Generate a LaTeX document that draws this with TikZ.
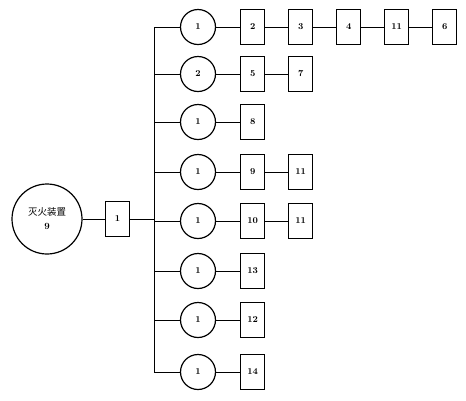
\documentclass[tikz,border=0pt]{standalone}
\usepackage{fontspec}
\newfontfamily\cjkfont{Noto Sans CJK SC}
\usetikzlibrary{positioning}

\begin{document}
\begin{tikzpicture}[
    x=1pt,y=-1pt,
    node distance=22.8pt,
    unit/.style={draw,circle,line width=1.2pt,minimum size=35pt,inner sep=0pt,font=\fontsize{9}{11}\selectfont\bfseries},
    part/.style={draw,rectangle,line width=1.2pt,minimum width=24pt,minimum height=35pt,inner sep=0pt,font=\fontsize{9}{11}\selectfont\bfseries},
    link/.style={line width=0.7pt}
  ]
    \useasboundingbox (0,0) rectangle (466,400);

    \node[draw,circle,line width=1.2pt,minimum size=70pt,align=center,font=\fontsize{9.5}{14}\selectfont] (sys) at (47,219) {{\cjkfont 灭火装置}\\\bfseries 9};
    \node[part] (main) at (117.5,219) {1};
    \coordinate (bus) at (154,219);

    \node[unit] (r1) at (198,27) {1};
    \node[part,right=24pt of r1] (r1a) {2};
    \node[part,right=of r1a] (r1b) {3};
    \node[part,right=of r1b] (r1c) {4};
    \node[part,right=of r1c] (r1d) {11};
    \node[part,right=of r1d] (r1e) {6};

    \node[unit] (r2) at (198,74) {2};
    \node[part,right=24pt of r2] (r2a) {5};
    \node[part,right=of r2a] (r2b) {7};

    \node[unit] (r3) at (198,122) {1};
    \node[part,right=24pt of r3] (r3a) {8};

    \node[unit] (r4) at (198,172) {1};
    \node[part,right=24pt of r4] (r4a) {9};
    \node[part,right=of r4a] (r4b) {11};

    \node[unit] (r5) at (198,221) {1};
    \node[part,right=24pt of r5] (r5a) {10};
    \node[part,right=of r5a] (r5b) {11};

    \node[unit] (r6) at (198,271) {1};
    \node[part,right=24pt of r6] (r6a) {13};

    \node[unit] (r7) at (198,320) {1};
    \node[part,right=24pt of r7] (r7a) {12};

    \node[unit] (r8) at (198,372) {1};
    \node[part,right=24pt of r8] (r8a) {14};

    % feed to the bus
    \draw[link] (sys) -- (main);
    \draw[link] (main) -- (bus);
    \draw[link] (r1.west -| bus) -- (r8.west -| bus);

    % branches
    \draw[link] (r1.west -| bus) -- (r1) -- (r1a) -- (r1b) -- (r1c) -- (r1d) -- (r1e);
    \draw[link] (r2.west -| bus) -- (r2) -- (r2a) -- (r2b);
    \draw[link] (r3.west -| bus) -- (r3) -- (r3a);
    \draw[link] (r4.west -| bus) -- (r4) -- (r4a) -- (r4b);
    \draw[link] (r5.west -| bus) -- (r5) -- (r5a) -- (r5b);
    \draw[link] (r6.west -| bus) -- (r6) -- (r6a);
    \draw[link] (r7.west -| bus) -- (r7) -- (r7a);
    \draw[link] (r8.west -| bus) -- (r8) -- (r8a);
  \end{tikzpicture}
\end{document}
